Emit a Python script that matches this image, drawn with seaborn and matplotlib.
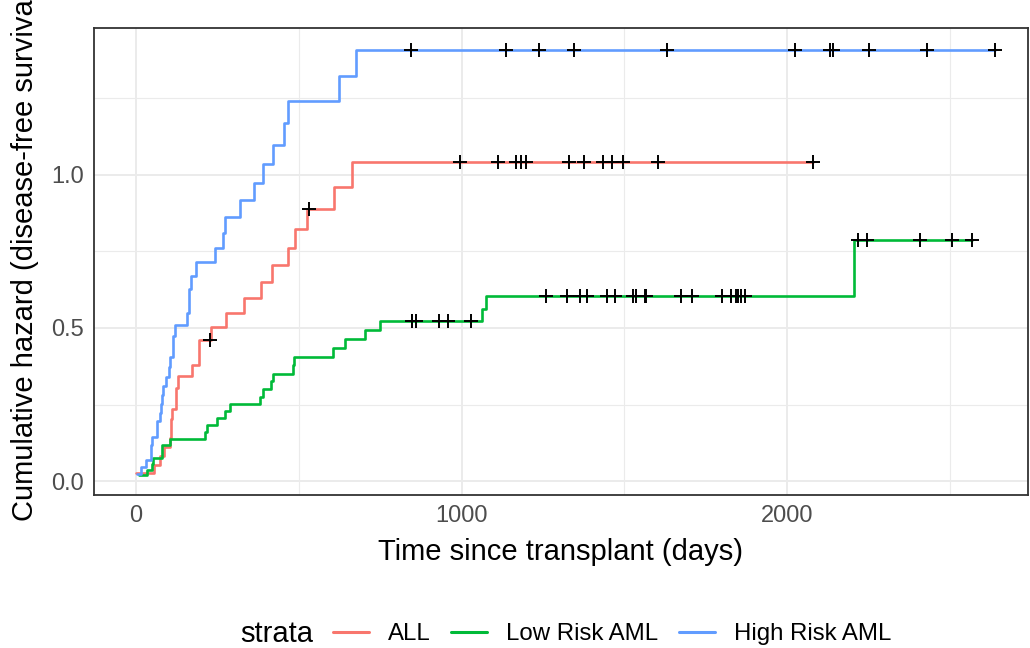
import numpy as np
import pandas as pd
import seaborn as sns
import matplotlib.pyplot as plt
from matplotlib.lines import Line2D

# disease-free survival times (days) and event flags (1 = relapse/death, 0 = censored)
all_time = [2081, 1602, 1496, 1462, 1433, 1377, 1330, 996, 226, 1199, 1111, 530, 1182, 1167,
            418, 383, 276, 104, 609, 172, 487, 662, 194, 230, 526, 122, 129, 74, 122, 86,
            466, 192, 109, 55, 1, 107, 110, 332]
all_status = [0] * 14 + [1] * 24

low_time = [2569, 2506, 2409, 2218, 1857, 1829, 1562, 1470, 1363, 1030, 860, 1258, 2246, 1870,
            1799, 1709, 1674, 1568, 1527, 1324, 957, 932, 847, 848, 1850, 1843, 1535, 1447, 1384,
            414, 2204, 1063, 481, 105, 641, 390, 288, 421, 79, 748, 486, 48, 272, 1074, 381,
            10, 53, 80, 35, 248, 704, 211, 219, 606]
low_status = [0] * 29 + [1] * 25

high_time = [2640, 2430, 2252, 2140, 2133, 1238, 1631, 2024, 1345, 1136, 845,
             422, 162, 84, 100, 2, 47, 242, 456, 268, 318, 32, 467, 47, 390, 183, 105, 115,
             164, 93, 120, 80, 677, 64, 168, 74, 16, 157, 625, 48, 273, 63, 76, 113, 363]
high_status = [0] * 11 + [1] * 34

groups = ["ALL", "Low Risk AML", "High Risk AML"]
colors = ["#F8766D", "#00BA38", "#619CFF"]


def cumhaz_table(time, status, name):
    # -log of the Kaplan-Meier estimate at each observed time
    time = np.asarray(time)
    status = np.asarray(status)
    surv = 1.0
    rows = []
    for t in np.unique(time):
        n_risk = (time >= t).sum()
        d = status[time == t].sum()
        surv *= 1 - d / n_risk
        censored = (status[time == t] == 0).any()
        rows.append((t, -np.log(surv), censored, name))
    return pd.DataFrame(rows, columns=["time", "cumhaz", "censored", "strata"])


df = pd.concat([
    cumhaz_table(all_time, all_status, groups[0]),
    cumhaz_table(low_time, low_status, groups[1]),
    cumhaz_table(high_time, high_status, groups[2]),
], ignore_index=True)

sns.set_theme(style="white")
plt.rcParams["font.family"] = ["Liberation Sans", "DejaVu Sans"]
plt.rcParams["text.color"] = "black"

W, H = 1030, 648
fig = plt.figure(figsize=(W / 100, H / 100), dpi=100)
ax = fig.add_axes([94 / W, 1 - 495 / H, (1028 - 94) / W, (495 - 28) / H])

sns.lineplot(data=df, x="time", y="cumhaz", hue="strata", hue_order=groups,
             palette=colors, estimator=None, sort=True, drawstyle="steps-post",
             linewidth=1.9, legend=False, ax=ax, zorder=3)
sns.scatterplot(data=df[df["censored"]], x="time", y="cumhaz", marker="+",
                color="black", s=110, linewidth=1.4, legend=False, ax=ax, zorder=4)

ax.set_xlim(-129, 2740)
ax.set_ylim(-0.045, 1.479)
ax.set_xticks([0, 1000, 2000])
ax.set_xticks([500, 1500, 2500], minor=True)
ax.set_yticks([0.0, 0.5, 1.0])
ax.set_yticks([0.25, 0.75, 1.25], minor=True)
ax.set_yticklabels(["0.0", "0.5", "1.0"])
ax.grid(which="major", color="#EBEBEB", linewidth=1.4)
ax.grid(which="minor", color="#EBEBEB", linewidth=0.8)
ax.set_axisbelow(True)
for s in ax.spines.values():
    s.set_color("#333333")
    s.set_linewidth(1.3)
ax.tick_params(axis="both", which="major", length=4.5, width=1.2, color="#333333",
               labelsize=17, labelcolor="#4D4D4D", pad=3)
ax.tick_params(which="minor", length=0)

ax.set_xlabel("Time since transplant (days)", fontsize=21, color="black")
ax.set_ylabel("Cumulative hazard (disease-free survival)", fontsize=21, color="black")
ax.xaxis.set_label_coords(0.5, (495 - 552) / 467)
ax.xaxis.label.set_va("center")
ax.yaxis.set_label_coords((25 - 94) / 934, (495 - 252) / 467)
ax.yaxis.label.set_va("center")

fig.text(277 / W, 1 - 634 / H, "strata", fontsize=21, ha="center", va="center",
         color="black")
handles = [Line2D([], [], color=c, linewidth=2.2) for c in colors]
leg = fig.legend(handles, groups, loc="center", bbox_to_anchor=(612 / W, 1 - 634 / H),
                 ncol=3, frameon=False, fontsize=17.3, handlelength=1.5,
                 handletextpad=0.8, columnspacing=0.85)
for txt in leg.get_texts():
    txt.set_color("black")

fig.savefig("out.png", dpi=100)
